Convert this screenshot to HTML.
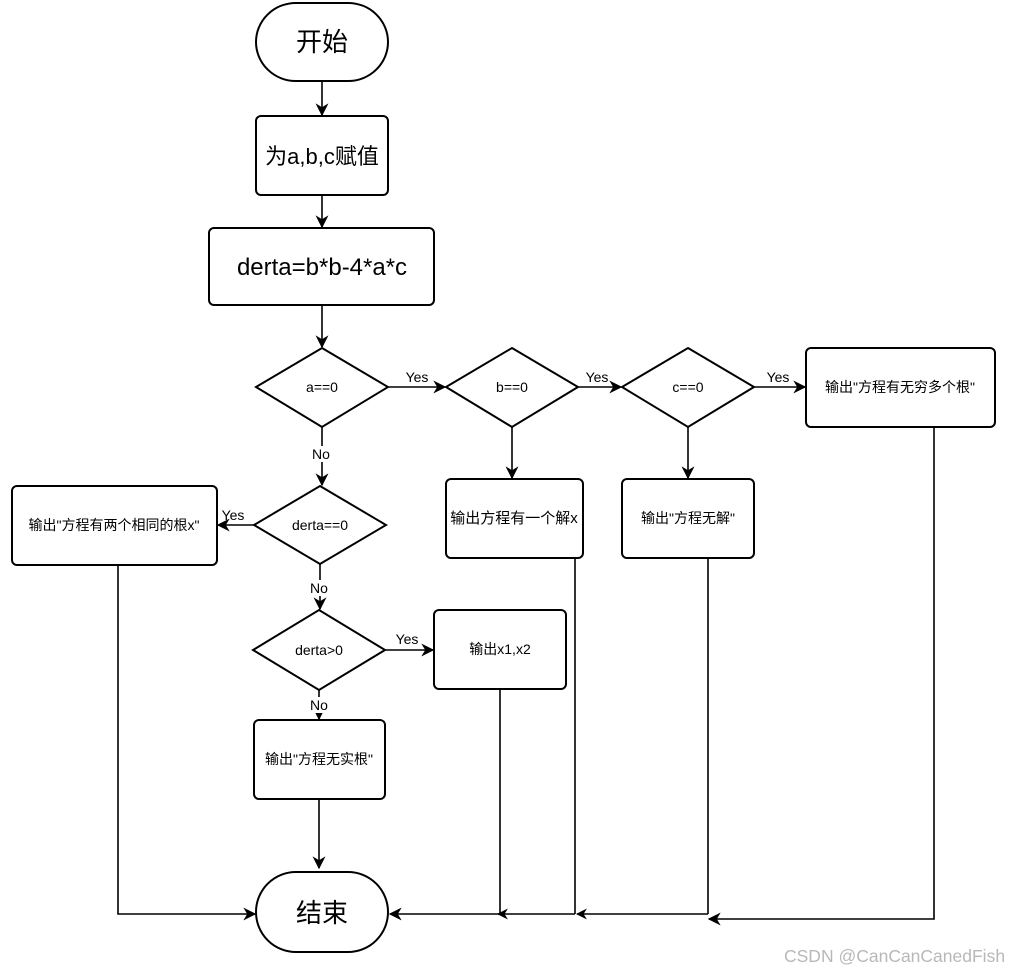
<!DOCTYPE html>
<html><head><meta charset="utf-8"><style>
html,body{margin:0;padding:0;background:#fff;}
svg text{font-family:"Liberation Sans","Noto Sans CJK SC",sans-serif;fill:#000;}
</style></head><body>
<svg width="1019" height="974" viewBox="0 0 1019 974" xmlns="http://www.w3.org/2000/svg">
<defs><marker id="a" viewBox="0 0 10 10" refX="9" refY="5" markerWidth="11" markerHeight="11" orient="auto" markerUnits="userSpaceOnUse"><path d="M0,0 L10,5 L0,10 L3,5 z" fill="#000"/></marker>
<marker id="b" viewBox="0 0 10 10" refX="9" refY="5" markerWidth="13" markerHeight="13" orient="auto" markerUnits="userSpaceOnUse"><path d="M0,0 L10,5 L0,10 L3,5 z" fill="#000"/></marker></defs>
<g fill="none" stroke="#000" stroke-width="2">
<rect x="256" y="3" width="132" height="78" rx="40"/>
<rect x="256" y="116" width="132" height="79" rx="5"/>
<rect x="209" y="228" width="225" height="77" rx="5"/>
<polygon points="322,348 388,387 322,427 256,387"/>
<polygon points="512,348 578,387 512,427 446,387"/>
<polygon points="688,348 754,387 688,427 622,387"/>
<rect x="806" y="348" width="189" height="79" rx="5"/>
<rect x="446" y="479" width="137" height="79" rx="5"/>
<rect x="622" y="479" width="132" height="79" rx="5"/>
<polygon points="320,486 386,525 320,564 254,525"/>
<rect x="12" y="486" width="205" height="79" rx="5"/>
<polygon points="319,610 385,650 319,690 253,650"/>
<rect x="434" y="610" width="132" height="79" rx="5"/>
<rect x="254" y="720" width="131" height="79" rx="5"/>
<rect x="256" y="872" width="132" height="80" rx="40"/>
</g>
<g fill="none" stroke="#000" stroke-width="1.6">
<line x1="322" y1="81" x2="322" y2="115" marker-end="url(#b)"/>
<line x1="322" y1="195" x2="322" y2="227" marker-end="url(#b)"/>
<line x1="322" y1="305" x2="322" y2="347" marker-end="url(#b)"/>
<line x1="388" y1="387" x2="445" y2="387" marker-end="url(#b)"/>
<line x1="578" y1="387" x2="621" y2="387" marker-end="url(#b)"/>
<line x1="754" y1="387" x2="805" y2="387" marker-end="url(#b)"/>
<line x1="512" y1="427" x2="512" y2="478" marker-end="url(#b)"/>
<line x1="688" y1="427" x2="688" y2="478" marker-end="url(#b)"/>
<line x1="322" y1="427" x2="322" y2="485" marker-end="url(#b)"/>
<line x1="254" y1="525" x2="218" y2="525" marker-end="url(#b)"/>
<line x1="320" y1="564" x2="320" y2="609" marker-end="url(#b)"/>
<line x1="385" y1="650" x2="433" y2="650" marker-end="url(#b)"/>
<line x1="319" y1="690" x2="319" y2="719" marker-end="url(#b)"/>
<line x1="319" y1="799" x2="319" y2="868" marker-end="url(#b)"/>
<polyline points="118,565 118,914 255,914" marker-end="url(#b)"/>
<line x1="500" y1="689" x2="500" y2="914"/>
<line x1="575" y1="558" x2="575" y2="914"/>
<line x1="708" y1="558" x2="708" y2="914"/>
<line x1="708" y1="914" x2="577" y2="914" marker-end="url(#a)"/>
<line x1="575" y1="914" x2="498" y2="914" marker-end="url(#a)"/>
<line x1="500" y1="914" x2="390" y2="914" marker-end="url(#b)"/>
<polyline points="934,427 934,919 709,919" marker-end="url(#b)"/>
</g>
<g fill="#fff" stroke="none">
<rect x="312" y="446" width="20" height="16"/>
<rect x="309" y="580" width="20" height="16"/>
<rect x="309" y="697" width="20" height="16"/>
</g>
<g text-anchor="middle">
<text x="322" y="51" font-size="26">开始</text>
<text x="322" y="164" font-size="22">为a,b,c赋值</text>
<text x="322" y="275" font-size="24">derta=b*b-4*a*c</text>
<text x="322" y="392" font-size="14">a==0</text>
<text x="512" y="392" font-size="14">b==0</text>
<text x="688" y="392" font-size="14">c==0</text>
<text x="900" y="392" font-size="14">输出"方程有无穷多个根"</text>
<text x="514" y="523" font-size="15">输出方程有一个解x</text>
<text x="688" y="523" font-size="14">输出"方程无解"</text>
<text x="320" y="530" font-size="14">derta==0</text>
<text x="114" y="530" font-size="14">输出"方程有两个相同的根x"</text>
<text x="319" y="655" font-size="14">derta&gt;0</text>
<text x="500" y="654" font-size="14">输出x1,x2</text>
<text x="319" y="764" font-size="14">输出"方程无实根"</text>
<text x="322" y="922" font-size="26">结束</text>
<text x="417" y="382" font-size="14">Yes</text>
<text x="597" y="382" font-size="14">Yes</text>
<text x="778" y="382" font-size="14">Yes</text>
<text x="233" y="520" font-size="14">Yes</text>
<text x="407" y="644" font-size="14">Yes</text>
<text x="321" y="459" font-size="14">No</text>
<text x="319" y="593" font-size="14">No</text>
<text x="319" y="710" font-size="14">No</text>
</g>
<text x="784" y="962" font-size="17.5" style="fill:#b8b8b8">CSDN @CanCanCanedFish</text>
</svg>
</body></html>
